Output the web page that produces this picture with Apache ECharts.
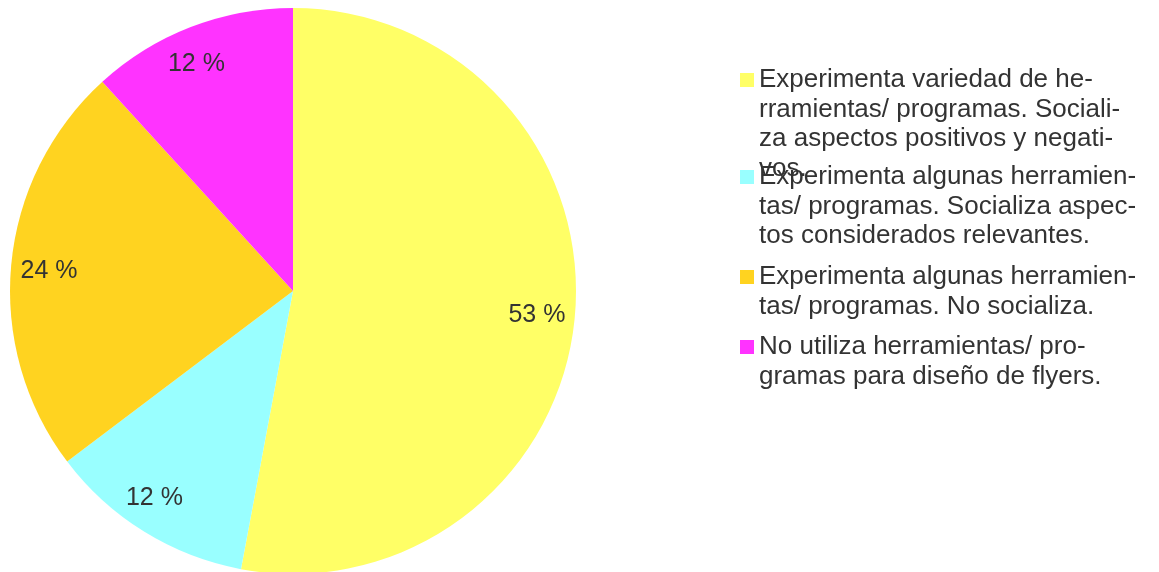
<!DOCTYPE html>
<html>
<head>
<meta charset="utf-8">
<script src="https://cdn.jsdelivr.net/npm/echarts@6/dist/echarts.min.js"></script>
<style>html,body{margin:0;padding:0;background:#fff}#c{width:1159px;height:572px}</style>
</head>
<body>
<div id="c"></div>
<script>
const categories = [
  "Experimenta variedad de he-\nrramientas/ programas. Sociali-\nza aspectos positivos y negati-\nvos.",
  "Experimenta algunas herramien-\ntas/ programas. Socializa aspec-\ntos considerados relevantes.",
  "Experimenta algunas herramien-\ntas/ programas. No socializa.",
  "No utiliza herramientas/ pro-\ngramas para diseño de flyers."
];
const values = [9, 2, 4, 2];
const colors = ["#FFFF66", "#99FFFF", "#FFD320", "#FF33FF"];

// layout (not data)
const legendFirstLine = [80, 177, 277, 347];
const labelOffsets = [[-3, 1], [-8, -4], [3, 3], [-7, 4]];

const LH = 29.5;
const FONT = "'Liberation Sans', Arial, sans-serif";
const data = categories.map((n, i) => ({ name: n, value: values[i], itemStyle: { color: colors[i] } }));

const legends = categories.map((n, i) => {
  const lines = n.split("\n").length;
  return {
    data: [n],
    left: 740,
    top: legendFirstLine[i] - (lines - 1) * LH - LH / 2,
    padding: 0,
    orient: 'vertical',
    icon: 'rect',
    itemWidth: 14,
    itemHeight: 14,
    selectedMode: false,
    formatter: name => "\n".repeat(lines - 1) + name,
    textStyle: {
      fontFamily: FONT, fontSize: 26, color: '#333333',
      lineHeight: LH
    }
  };
});

const chart = echarts.init(document.getElementById('c'));
chart.setOption({
  backgroundColor: '#ffffff',
  animation: false,
  legend: legends,
  series: [
    {
      type: 'pie', center: [293, 291], radius: 283, startAngle: 90,
      data: data, silent: true,
      label: { show: false }, labelLine: { show: false },
      itemStyle: { borderWidth: 0 }
    },
    {
      type: 'pie', center: [293, 291], radius: [207, 283], startAngle: 90,
      data: categories.map((n, i) => ({ name: n, value: values[i], label: { offset: labelOffsets[i] } })),
      silent: true,
      itemStyle: { color: 'rgba(0,0,0,0)', borderWidth: 0 },
      label: {
        show: true, position: 'inside', fontFamily: FONT, fontSize: 25, color: '#333333',
        formatter: p => Math.round(p.percent) + ' %'
      },
      labelLine: { show: false }
    }
  ]
});
</script>
</body>
</html>
